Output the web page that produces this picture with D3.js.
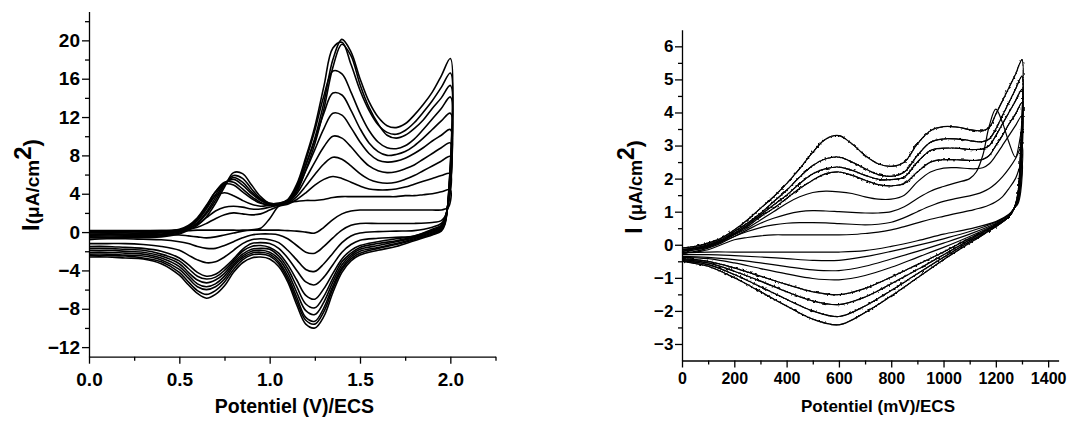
<!DOCTYPE html>
<html>
<head>
<meta charset="utf-8">
<script src="https://cdn.jsdelivr.net/npm/d3@7"></script>
<style>
  html, body { margin: 0; padding: 0; background: #fff; }
  svg { display: block; }
  text { font-family: "Liberation Sans", Arial, sans-serif; font-weight: bold; fill: #000; }
</style>
</head>
<body>
<svg id="chart" width="1074" height="425"></svg>
<script>
// ---------- Left voltammogram: potential in V vs ECS, current in µA/cm² ----------
const leftForwardE = [0, 0.2, 0.4, 0.5, 0.55, 0.6, 0.65, 0.7, 0.75, 0.8, 0.85, 0.9, 0.95, 1.0, 1.05, 1.1,
  1.15, 1.2, 1.25, 1.3, 1.35, 1.4, 1.45, 1.5, 1.55, 1.6, 1.65, 1.7, 1.75, 1.8, 1.85, 1.9, 1.95, 2.0];
const leftReverseE = [1.99, 1.97, 1.95, 1.9, 1.8, 1.7, 1.6, 1.5, 1.45, 1.4, 1.35, 1.3, 1.25, 1.2, 1.15, 1.1,
  1.05, 1.0, 0.95, 0.9, 0.85, 0.8, 0.75, 0.7, 0.65, 0.6, 0.55, 0.5, 0.4, 0.3, 0.2, 0.1, 0];

const leftForward = [
  [0.15, 0.15, 0.15, 0.15, 0.15, 0.2, 0.2, 0.2, 0.2, 0.2, 0.2, 0.25, 0.4, 1.4, 2.7, 3.1, 3.2, 3.3, 3.3, 3.4, 3.6, 3.7, 3.7, 3.7, 3.7, 3.7, 3.7, 3.7, 3.8, 3.8, 3.9, 4.0, 4.2, 4.4],
  [0.1, 0.1, 0.15, 0.2, 0.3, 0.5, 0.9, 1.4, 1.8, 2.0, 1.9, 1.8, 1.9, 2.3, 2.7, 2.9, 3.4, 4.1, 4.9, 5.5, 5.8, 5.6, 5.2, 4.8, 4.5, 4.4, 4.4, 4.5, 4.7, 5.0, 5.3, 5.6, 5.9, 6.1],
  [0.05, 0.05, 0.1, 0.2, 0.4, 0.8, 1.5, 2.2, 2.6, 2.7, 2.6, 2.4, 2.4, 2.6, 2.8, 3.0, 3.7, 4.8, 6.0, 7.1, 7.8, 7.6, 6.9, 6.1, 5.5, 5.2, 5.1, 5.2, 5.5, 5.9, 6.4, 6.9, 7.4, 7.9],
  [0.0, 0.0, 0.05, 0.25, 0.6, 1.3, 2.6, 3.8, 4.1, 3.8, 3.3, 2.9, 2.7, 2.8, 2.9, 3.1, 4.0, 5.6, 7.3, 8.9, 10.0, 9.8, 8.9, 7.8, 6.9, 6.4, 6.2, 6.3, 6.6, 7.0, 7.6, 8.2, 8.8, 9.3],
  [-0.1, -0.1, 0.0, 0.3, 0.7, 1.5, 2.8, 4.2, 5.0, 4.9, 4.2, 3.5, 3.0, 2.8, 2.9, 3.2, 4.4, 6.4, 8.6, 10.8, 12.4, 12.2, 10.9, 9.4, 8.2, 7.5, 7.3, 7.4, 7.7, 8.2, 8.8, 9.5, 10.1, 10.7],
  [-0.2, -0.2, -0.1, 0.2, 0.6, 1.4, 2.7, 4.2, 5.2, 5.2, 4.5, 3.7, 3.1, 2.8, 2.9, 3.3, 4.6, 7.0, 9.6, 12.4, 14.5, 14.3, 12.7, 10.8, 9.3, 8.4, 8.0, 8.1, 8.4, 9.0, 9.8, 10.7, 11.6, 12.4],
  [-0.3, -0.3, -0.2, 0.1, 0.5, 1.2, 2.4, 3.9, 5.1, 5.5, 4.9, 4.0, 3.3, 2.9, 2.9, 3.3, 4.8, 7.5, 10.6, 14.2, 16.8, 16.5, 14.6, 12.4, 10.6, 9.4, 8.8, 8.7, 9.0, 9.7, 10.7, 11.8, 12.9, 14.1],
  [-0.4, -0.4, -0.3, 0.0, 0.4, 1.0, 2.1, 3.6, 5.0, 5.7, 5.2, 4.2, 3.4, 2.9, 2.9, 3.2, 4.2, 6.5, 9.2, 12.8, 17.2, 19.6, 18.4, 15.4, 13.0, 11.3, 10.1, 9.8, 10.1, 10.8, 11.7, 12.9, 14.0, 15.3],
  [-0.5, -0.5, -0.4, -0.1, 0.3, 0.9, 1.9, 3.3, 4.9, 5.9, 5.6, 4.5, 3.5, 3.0, 3.0, 3.4, 5.0, 7.8, 11.0, 15.2, 19.2, 19.8, 17.5, 14.8, 12.7, 11.2, 10.4, 10.2, 10.6, 11.4, 12.5, 13.7, 15.1, 16.6],
  [-0.6, -0.6, -0.5, -0.2, 0.2, 0.7, 1.6, 3.0, 4.7, 6.2, 6.1, 4.9, 3.7, 3.0, 3.0, 3.3, 4.5, 7.0, 9.8, 13.5, 18.0, 20.1, 18.8, 16.0, 13.6, 12.0, 11.1, 10.9, 11.3, 12.2, 13.3, 14.6, 16.3, 18.1]
];

const leftReverse = [
  [2.6, 2.4, 2.3, 2.3, 2.3, 2.3, 2.3, 2.3, 2.2, 1.9, 1.3, 0.5, -0.1, 0.0, 0.1, 0.15, 0.2, 0.2, 0.2, 0.2, 0.1, -0.1, -0.3, -0.5, -0.6, -0.5, -0.4, -0.3, -0.25, -0.25, -0.25, -0.25, -0.3],
  [3.0, 1.6, 1.2, 1.0, 0.9, 0.9, 0.9, 0.9, 0.7, 0.2, -0.6, -1.5, -2.2, -2.1, -1.4, -0.7, -0.3, -0.2, -0.2, -0.3, -0.6, -1.0, -1.4, -1.7, -1.7, -1.5, -1.2, -1.0, -0.8, -0.75, -0.7, -0.7, -0.8],
  [3.2, 1.5, 0.9, 0.5, 0.15, 0.1, 0.05, -0.1, -0.4, -1.1, -2.2, -3.3, -4.1, -3.9, -2.9, -1.9, -1.1, -0.8, -0.7, -0.8, -1.2, -1.9, -2.6, -3.1, -3.2, -2.9, -2.4, -1.9, -1.5, -1.3, -1.2, -1.2, -1.2],
  [3.3, 1.4, 0.7, 0.3, -0.4, -0.55, -0.65, -0.85, -1.3, -2.1, -3.4, -4.7, -5.5, -5.2, -4.0, -2.7, -1.7, -1.2, -1.1, -1.2, -1.8, -2.8, -3.7, -4.4, -4.6, -4.2, -3.4, -2.7, -2.0, -1.7, -1.6, -1.5, -1.5],
  [3.4, 1.3, 0.6, 0.2, -0.4, -0.7, -1.0, -1.4, -1.9, -2.8, -4.3, -5.9, -7.0, -6.6, -5.0, -3.4, -2.2, -1.6, -1.4, -1.5, -2.0, -3.0, -4.0, -4.7, -4.9, -4.6, -3.8, -3.0, -2.3, -1.9, -1.8, -1.7, -1.7],
  [3.5, 1.2, 0.5, 0.1, -0.5, -0.9, -1.2, -1.6, -2.2, -3.1, -4.8, -6.7, -7.9, -7.5, -5.7, -3.8, -2.5, -1.8, -1.7, -1.8, -2.3, -3.2, -4.3, -5.0, -5.3, -5.0, -4.2, -3.3, -2.5, -2.1, -2.0, -1.9, -1.9],
  [3.6, 1.1, 0.4, 0.0, -0.6, -1.0, -1.4, -1.8, -2.4, -3.4, -5.2, -7.3, -8.6, -8.2, -6.3, -4.2, -2.8, -2.1, -1.9, -2.0, -2.5, -3.4, -4.6, -5.4, -5.7, -5.4, -4.5, -3.6, -2.7, -2.3, -2.2, -2.1, -2.1],
  [3.7, 1.0, 0.3, -0.1, -0.7, -1.2, -1.6, -2.0, -2.6, -3.7, -5.6, -7.9, -9.3, -8.9, -6.8, -4.6, -3.1, -2.3, -2.1, -2.2, -2.7, -3.6, -4.9, -5.7, -6.0, -5.7, -4.8, -3.9, -2.9, -2.5, -2.4, -2.3, -2.3],
  [3.8, 0.9, 0.2, -0.2, -0.8, -1.3, -1.7, -2.2, -2.8, -3.9, -5.9, -8.3, -9.6, -9.2, -7.2, -4.9, -3.3, -2.5, -2.3, -2.4, -2.9, -3.9, -5.2, -6.1, -6.5, -6.1, -5.2, -4.2, -3.1, -2.7, -2.5, -2.45, -2.45],
  [3.9, 0.8, 0.1, -0.3, -0.9, -1.5, -1.9, -2.4, -3.0, -4.2, -6.3, -8.8, -10.0, -9.6, -7.6, -5.2, -3.6, -2.8, -2.6, -2.7, -3.2, -4.2, -5.6, -6.5, -6.9, -6.4, -5.5, -4.5, -3.3, -2.8, -2.7, -2.6, -2.6]
];

const leftXTicks = [0, 0.5, 1.0, 1.5, 2.0];
const leftXMinor = [0.25, 0.75, 1.25, 1.75, 2.25];
const leftYTicks = [-12, -8, -4, 0, 4, 8, 12, 16, 20];
const leftYMinor = [-10, -6, -2, 2, 6, 10, 14, 18, 22];

// ---------- Right voltammogram: potential in mV vs ECS, current in µA/cm² ----------
const rightForwardE = [0, 50, 100, 150, 200, 250, 300, 350, 400, 450, 500, 550, 600, 650, 700, 750, 800,
  850, 900, 950, 1000, 1050, 1100, 1125, 1150, 1175, 1200, 1225, 1250, 1275, 1300];
const rightReverseE = [1295, 1285, 1270, 1250, 1200, 1100, 1000, 900, 800, 700, 600, 500, 400, 300, 200, 100, 0];

const rightForward = [
  [-0.28, -0.22, -0.15, 0.0, 0.15, 0.22, 0.27, 0.3, 0.3, 0.3, 0.3, 0.3, 0.3, 0.31, 0.34, 0.38, 0.45, 0.55, 0.66, 0.77, 0.86, 0.95, 1.03, 1.08, 1.13, 1.2, 1.3, 1.45, 1.7, 2.0, 2.5],
  [-0.25, -0.2, -0.1, 0.05, 0.25, 0.4, 0.52, 0.6, 0.65, 0.67, 0.67, 0.66, 0.64, 0.62, 0.6, 0.62, 0.68, 0.82, 1.0, 1.17, 1.31, 1.4, 1.48, 1.53, 1.6, 1.7, 1.85, 2.05, 2.3, 2.6, 3.0],
  [-0.25, -0.15, -0.08, 0.08, 0.25, 0.45, 0.65, 0.8, 0.92, 1.0, 1.03, 1.02, 1.0, 0.98, 0.96, 0.96, 1.0, 1.15, 1.4, 1.62, 1.76, 1.88, 2.0, 2.2, 2.7, 3.6, 4.1, 3.7, 3.1, 2.65, 3.5],
  [-0.2, -0.15, -0.05, 0.1, 0.3, 0.5, 0.75, 1.0, 1.25, 1.45, 1.58, 1.62, 1.6, 1.55, 1.45, 1.38, 1.38, 1.5, 1.9, 2.2, 2.32, 2.33, 2.3, 2.3, 2.33, 2.45, 2.7, 3.0, 3.3, 3.6, 3.9],
  [-0.2, -0.12, -0.05, 0.1, 0.32, 0.55, 0.85, 1.1, 1.4, 1.7, 1.95, 2.15, 2.2, 2.1, 1.95, 1.82, 1.78, 1.85, 2.2, 2.5, 2.57, 2.57, 2.55, 2.55, 2.58, 2.7, 3.0, 3.3, 3.65, 3.95, 4.3],
  [-0.15, -0.1, -0.02, 0.12, 0.35, 0.6, 0.9, 1.2, 1.5, 1.85, 2.15, 2.3, 2.35, 2.25, 2.1, 1.98, 1.97, 2.05, 2.5, 2.85, 2.92, 2.92, 2.88, 2.88, 2.9, 3.0, 3.3, 3.65, 4.0, 4.35, 4.7],
  [-0.15, -0.1, 0.0, 0.15, 0.4, 0.65, 0.95, 1.3, 1.65, 2.05, 2.4, 2.6, 2.65, 2.5, 2.3, 2.12, 2.07, 2.2, 2.7, 3.1, 3.2, 3.2, 3.15, 3.12, 3.12, 3.2, 3.5, 3.9, 4.3, 4.7, 5.1],
  [-0.1, -0.05, 0.05, 0.2, 0.45, 0.75, 1.1, 1.45, 1.85, 2.3, 2.8, 3.2, 3.3, 3.05, 2.7, 2.45, 2.37, 2.5, 3.05, 3.45, 3.57, 3.56, 3.48, 3.45, 3.45, 3.55, 3.95, 4.35, 4.75, 5.15, 5.6]
];

const rightReverse = [
  [1.6, 1.25, 1.1, 0.92, 0.7, 0.48, 0.32, 0.12, -0.05, -0.18, -0.22, -0.22, -0.22, -0.22, -0.22, -0.22, -0.25],
  [1.8, 1.3, 1.1, 0.9, 0.68, 0.4, 0.18, -0.02, -0.2, -0.36, -0.47, -0.47, -0.42, -0.37, -0.33, -0.3, -0.3],
  [2.0, 1.35, 1.1, 0.9, 0.65, 0.32, 0.05, -0.2, -0.43, -0.65, -0.78, -0.76, -0.66, -0.55, -0.45, -0.38, -0.35],
  [2.2, 1.4, 1.1, 0.85, 0.62, 0.25, -0.08, -0.38, -0.68, -0.93, -1.06, -1.02, -0.88, -0.72, -0.55, -0.42, -0.38],
  [2.4, 1.45, 1.1, 0.85, 0.6, 0.2, -0.22, -0.6, -0.98, -1.32, -1.51, -1.42, -1.2, -0.95, -0.7, -0.5, -0.42],
  [2.6, 1.5, 1.1, 0.85, 0.6, 0.15, -0.3, -0.75, -1.18, -1.58, -1.81, -1.7, -1.42, -1.1, -0.8, -0.55, -0.45],
  [2.8, 1.55, 1.1, 0.85, 0.55, 0.1, -0.38, -0.88, -1.38, -1.85, -2.17, -2.0, -1.65, -1.27, -0.9, -0.6, -0.48],
  [3.0, 1.6, 1.1, 0.85, 0.55, 0.05, -0.45, -1.0, -1.55, -2.05, -2.42, -2.25, -1.85, -1.42, -1.0, -0.65, -0.5]
];

const rightXTicks = [0, 200, 400, 600, 800, 1000, 1200, 1400];
const rightXMinor = [100, 300, 500, 700, 900, 1100, 1300];
const rightYTicks = [-3, -2, -1, 0, 1, 2, 3, 4, 5, 6];
const rightYMinor = [-2.5, -1.5, -0.5, 0.5, 1.5, 2.5, 3.5, 4.5, 5.5];

// ---------- drawing ----------
const svg = d3.select("#chart");

// fine jitter overlay for the noisy recordings of the second film
const defs = svg.append("defs");
const jitter = defs.append("filter").attr("id", "jitter")
  .attr("filterUnits", "userSpaceOnUse")
  .attr("x", 660).attr("y", 0).attr("width", 414).attr("height", 425);
jitter.append("feTurbulence").attr("type", "fractalNoise")
  .attr("baseFrequency", 0.45).attr("numOctaves", 1).attr("seed", 4).attr("result", "n");
jitter.append("feDisplacementMap").attr("in", "SourceGraphic").attr("in2", "n")
  .attr("scale", 3.5).attr("xChannelSelector", "R").attr("yChannelSelector", "G");

const xL = d3.scaleLinear().domain([0, 2.25]).range([89, 495.5]);
const yL = d3.scaleLinear().domain([-13, 23]).range([356.7, 11.6]);
const xR = d3.scaleLinear().domain([0, 1440]).range([682, 1058.6]);
const yR = d3.scaleLinear().domain([-3.5, 6.5]).range([360.5, 29.8]);

function cyclePoints(fE, fI, rE, rI) {
  return fE.map((e, i) => [e, fI[i]]).concat(rE.map((e, i) => [e, rI[i]]));
}

function drawCurves(g, x, y, fE, fwd, rE, rev, width, noisyFrom) {
  const line = d3.line()
    .x(d => x(d[0])).y(d => y(d[1]))
    .curve(d3.curveCatmullRom.alpha(0.5));
  fwd.forEach((f, c) => {
    const d = line(cyclePoints(fE, f, rE, rev[c]));
    g.append("path")
      .attr("d", d)
      .attr("fill", "none")
      .attr("stroke", "#000")
      .attr("stroke-width", width)
      .attr("stroke-linejoin", "round");
    if (noisyFrom !== null && c >= noisyFrom) {
      g.append("path")
        .attr("d", d)
        .attr("fill", "none")
        .attr("stroke", "#000")
        .attr("stroke-width", 1.1)
        .attr("filter", "url(#jitter)");
    }
  });
}

function drawAxes(g, x, y, o) {
  const xAxis = g.append("g").attr("transform", `translate(0,${y.range()[0]})`);
  xAxis.call(d3.axisBottom(x).tickValues(o.xTicks).tickSize(7).tickSizeOuter(0)
    .tickPadding(o.xPad).tickFormat(o.xFormat));
  xAxis.append("g").call(d3.axisBottom(x).tickValues(o.xMinor).tickSize(4).tickSizeOuter(0).tickFormat(""))
    .select(".domain").remove();

  const yAxis = g.append("g").attr("transform", `translate(${x.range()[0]},0)`);
  yAxis.call(d3.axisLeft(y).tickValues(o.yTicks).tickSize(7).tickSizeOuter(0)
    .tickPadding(o.yPad).tickFormat(d3.format("d")));
  yAxis.append("g").call(d3.axisLeft(y).tickValues(o.yMinor).tickSize(4).tickSizeOuter(0).tickFormat(""))
    .select(".domain").remove();

  g.selectAll(".domain, .tick line").attr("stroke", "#000").attr("stroke-width", 1.3);
  xAxis.selectAll(".tick text").attr("font-size", o.xFont).attr("font-family", null);
  yAxis.selectAll(".tick text").attr("font-size", o.yFont).attr("font-family", null);
}

// Left chart
const gL = svg.append("g");
drawCurves(gL, xL, yL, leftForwardE, leftForward, leftReverseE, leftReverse, 1.6, null);
drawAxes(gL, xL, yL, {
  xTicks: leftXTicks, xMinor: leftXMinor, yTicks: leftYTicks, yMinor: leftYMinor,
  xFormat: d3.format(".1f"), xPad: 9, yPad: 2, xFont: 19, yFont: 19
});
gL.append("text").attr("x", 294.5).attr("y", 413).attr("text-anchor", "middle")
  .attr("font-size", 19.5).text("Potentiel (V)/ECS");
const ylabL = gL.append("text").attr("text-anchor", "middle")
  .attr("transform", "translate(39,185) rotate(-90)");
ylabL.append("tspan").attr("font-size", 24).text("I");
ylabL.append("tspan").attr("font-size", 19).text("(μA/cm");
ylabL.append("tspan").attr("font-size", 24).attr("dy", -8).text("2");
ylabL.append("tspan").attr("font-size", 22).attr("dy", 8).text(")");

// Right chart
const gR = svg.append("g");
drawCurves(gR, xR, yR, rightForwardE, rightForward, rightReverseE, rightReverse, 1.2, 4);
drawAxes(gR, xR, yR, {
  xTicks: rightXTicks, xMinor: rightXMinor, yTicks: rightYTicks, yMinor: rightYMinor,
  xFormat: d3.format("d"), xPad: 5, yPad: 1.5, xFont: 16, yFont: 17
});
gR.append("text").attr("x", 878).attr("y", 412).attr("text-anchor", "middle")
  .attr("font-size", 17).text("Potentiel (mV)/ECS");
const ylabR = gR.append("text").attr("text-anchor", "middle")
  .attr("transform", "translate(642,187) rotate(-90)");
ylabR.append("tspan").attr("font-size", 23).text("I ");
ylabR.append("tspan").attr("font-size", 18).text("(μA/cm");
ylabR.append("tspan").attr("font-size", 23).attr("dy", -8).text("2");
ylabR.append("tspan").attr("font-size", 21).attr("dy", 8).text(")");
</script>
</body>
</html>
